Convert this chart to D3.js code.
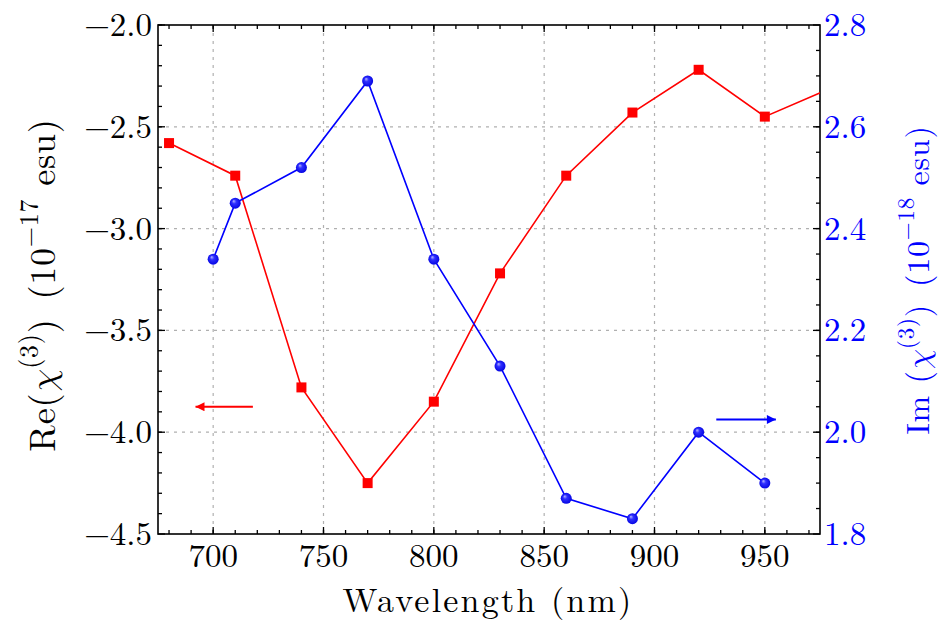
<!DOCTYPE html>
<html><head><meta charset="utf-8">
<script src="https://cdn.jsdelivr.net/npm/d3@7"></script>
<style>html,body{margin:0;padding:0;background:#fff;}</style>
</head>
<body><svg id="c" width="946" height="625"></svg>
<script>
// Data
const wavelengthRe = [680, 710, 740, 770, 800, 830, 860, 890, 920, 950, 980];
const reChi3 = [-2.58, -2.74, -3.78, -4.25, -3.85, -3.22, -2.74, -2.43, -2.22, -2.45, -2.31];
const wavelengthIm = [700, 710, 740, 770, 800, 830, 860, 890, 920, 950];
const imChi3 = [2.34, 2.45, 2.52, 2.69, 2.34, 2.13, 1.87, 1.83, 2.00, 1.90];
const xTicks = [700, 750, 800, 850, 900, 950];
const yLeftTicks = [-2.0, -2.5, -3.0, -3.5, -4.0, -4.5];
const yRightTicks = [1.8, 2.0, 2.2, 2.4, 2.6, 2.8];
const arrowRe = [718, 692, -3.875];   // x start, x end, y (left axis)
const arrowIm = [928, 955, 2.025];    // x start, x end, y (right axis)

const FONT = '"Latin Modern Roman", "CMU Serif", "DejaVu Serif", serif';
const GREEK = '"Latin Modern Math", "DejaVu Serif", serif';
const svg = d3.select("#c");
const L = 158, R = 820, T = 25, B = 534;
const x = d3.scaleLinear().domain([675, 975]).range([L, R]);
const yL = d3.scaleLinear().domain([-4.5, -2.0]).range([B, T]);
const yR = d3.scaleLinear().domain([1.8, 2.8]).range([B, T]);

const defs = svg.append("defs");
defs.append("clipPath").attr("id", "clip").append("rect")
  .attr("x", L).attr("y", T).attr("width", R - L).attr("height", B - T);
const grad = defs.append("radialGradient").attr("id", "ball")
  .attr("cx", "50%").attr("cy", "50%").attr("r", "55%").attr("fx", "35%").attr("fy", "30%");
grad.append("stop").attr("offset", "0%").attr("stop-color", "#b8b8ff");
grad.append("stop").attr("offset", "35%").attr("stop-color", "#3030ff");
grad.append("stop").attr("offset", "100%").attr("stop-color", "#0000e0");
["R", "B"].forEach(k => defs.append("marker").attr("id", "head" + k).attr("viewBox", "0 0 10 10")
  .attr("refX", 10).attr("refY", 5).attr("markerWidth", 16).attr("markerHeight", 9)
  .attr("markerUnits", "userSpaceOnUse").attr("orient", "auto")
  .append("path").attr("d", "M0,0 L10,5 L0,10 Z").attr("fill", k === "R" ? "#ff0000" : "#0000ff"));

// grid
const grid = svg.append("g");
xTicks.forEach(v => grid.append("line").attr("x1", x(v)).attr("x2", x(v)).attr("y1", T).attr("y2", B));
yLeftTicks.slice(1, -1).forEach(v => grid.append("line").attr("x1", L).attr("x2", R).attr("y1", yL(v)).attr("y2", yL(v)));
grid.selectAll("line").attr("stroke", "#b0b0b0").attr("stroke-width", 1.2).attr("stroke-dasharray", "3,5");

// axes with inward ticks
function ticks(g, sc, vals, orient, len) {
  vals.forEach(v => {
    const p = sc(v);
    let a;
    if (orient === "bottom") a = [p, B, p, B - len];
    if (orient === "top") a = [p, T, p, T + len];
    if (orient === "left") a = [L, p, L + len, p];
    if (orient === "right") a = [R, p, R - len, p];
    g.append("line").attr("x1", a[0]).attr("y1", a[1]).attr("x2", a[2]).attr("y2", a[3])
      .attr("stroke", "#000").attr("stroke-width", 1.3);
  });
}
const ax = svg.append("g");
const xMinor = d3.range(680, 975, 10);
const yLMinor = d3.range(-4.4, -2.0, 0.1);
const yRMinor = d3.range(1.85, 2.8, 0.05);
ticks(ax, x, xTicks, "bottom", 7); ticks(ax, x, xMinor, "bottom", 4);
ticks(ax, x, xTicks, "top", 7); ticks(ax, x, xMinor, "top", 4);
ticks(ax, yL, yLeftTicks, "left", 7); ticks(ax, yL, yLMinor, "left", 4);
ticks(ax, yR, yRightTicks, "right", 7); ticks(ax, yR, yRMinor, "right", 4);
ax.append("rect").attr("x", L).attr("y", T).attr("width", R - L).attr("height", B - T)
  .attr("fill", "none").attr("stroke", "#000").attr("stroke-width", 1.6);

function txt(sel) { return sel.style("font-family", FONT); }
// tick labels
const fs = 33;
xTicks.forEach(v => txt(svg.append("text")).attr("x", x(v)).attr("y", B + 33).attr("text-anchor", "middle")
  .attr("font-size", fs).attr("fill", "#000").text(d3.format("d")(v)));
yLeftTicks.forEach(v => txt(svg.append("text")).attr("x", L - 6).attr("y", yL(v) + 11).attr("text-anchor", "end")
  .attr("font-size", fs).attr("fill", "#000").text(d3.format(".1f")(v).replace("-", "\u2212")));
yRightTicks.forEach(v => txt(svg.append("text")).attr("x", R + 4).attr("y", yR(v) + 11).attr("text-anchor", "start")
  .attr("font-size", fs).attr("fill", "#0000ff").text(d3.format(".1f")(v)));

// axis titles
txt(svg.append("text")).attr("x", (L + R) / 2 - 1).attr("y", 612).attr("text-anchor", "middle")
  .attr("font-size", 34).attr("letter-spacing", 2.2).text("Wavelength (nm)");
function chiLabel(sel, sup, dy, prefix, exp) {
  sel.append("tspan").text(prefix);
  sel.append("tspan").style("font-family", GREEK).style("font-style", "italic").text("\u03C7");
  sel.append("tspan").attr("dy", -dy).attr("font-size", sup).text("(3)");
  sel.append("tspan").attr("dy", dy).text(")\u2002(10");
  sel.append("tspan").attr("dy", -dy).attr("font-size", sup).text(exp);
  sel.append("tspan").attr("dy", dy).text(" esu)");
}
const lt = txt(svg.append("text")).attr("transform", "translate(55,285) rotate(-90)").attr("text-anchor", "middle")
  .attr("font-size", 36).attr("letter-spacing", 0.8).attr("fill", "#000");
chiLabel(lt, 26, 17, "Re(", "\u221217");
const rt = txt(svg.append("text")).attr("transform", "translate(929,280) rotate(-90)").attr("text-anchor", "middle")
  .attr("font-size", 32).attr("letter-spacing", 0.8).attr("fill", "#0000ff");
chiLabel(rt, 23, 15, "Im (", "\u221218");

// series
const plot = svg.append("g").attr("clip-path", "url(#clip)");
const reData = wavelengthRe.map((w, i) => [w, reChi3[i]]);
const imData = wavelengthIm.map((w, i) => [w, imChi3[i]]);
plot.append("path").datum(reData).attr("fill", "none").attr("stroke", "#ff0000").attr("stroke-width", 1.6)
  .attr("d", d3.line().x(d => x(d[0])).y(d => yL(d[1])));
plot.selectAll("rect.m").data(reData).join("rect").attr("class", "m")
  .attr("x", d => x(d[0]) - 5).attr("y", d => yL(d[1]) - 5).attr("width", 10).attr("height", 10)
  .attr("fill", "#ff0000");
plot.append("path").datum(imData).attr("fill", "none").attr("stroke", "#0000ff").attr("stroke-width", 1.6)
  .attr("d", d3.line().x(d => x(d[0])).y(d => yR(d[1])));
plot.selectAll("circle.m").data(imData).join("circle").attr("class", "m")
  .attr("cx", d => x(d[0])).attr("cy", d => yR(d[1])).attr("r", 5.5)
  .attr("fill", "url(#ball)");

// arrows
svg.append("line").attr("x1", x(arrowRe[0])).attr("x2", x(arrowRe[1])).attr("y1", yL(arrowRe[2])).attr("y2", yL(arrowRe[2]))
  .attr("stroke", "#ff0000").attr("stroke-width", 2.2).attr("marker-end", "url(#headR)");
svg.append("line").attr("x1", x(arrowIm[0])).attr("x2", x(arrowIm[1])).attr("y1", yR(arrowIm[2])).attr("y2", yR(arrowIm[2]))
  .attr("stroke", "#0000ff").attr("stroke-width", 2.2).attr("marker-end", "url(#headB)");
</script></body></html>
